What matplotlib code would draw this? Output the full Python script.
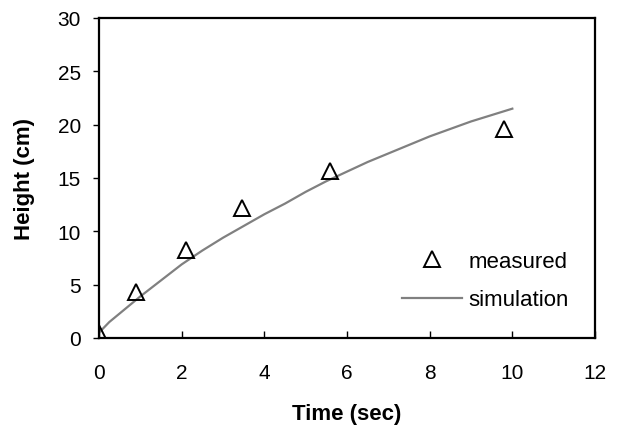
import matplotlib
matplotlib.use("Agg")
import matplotlib.pyplot as plt

plt.rcParams['font.family'] = ['Liberation Sans', 'DejaVu Sans']

meas_t = [0.0, 0.9, 2.1, 3.45, 5.6, 9.8]
meas_h = [0.5, 4.35, 8.25, 12.15, 15.7, 19.55]

sim_t = [0, 0.25, 0.5, 1, 1.5, 2, 2.5, 3, 3.5, 4, 4.5, 5, 5.5, 6, 6.5, 7, 7.5, 8, 8.5, 9, 9.5, 10]
sim_h = [0.5, 1.5, 2.3, 3.9, 5.4, 6.9, 8.2, 9.4, 10.5, 11.6, 12.6, 13.7, 14.7, 15.6, 16.5, 17.3, 18.1, 18.9, 19.6, 20.3, 20.9, 21.5]

fig = plt.figure(figsize=(6.21, 4.27), dpi=100)
W, H = 621, 427
ax = fig.add_axes([99 / W, (H - 339) / H, (595 - 99) / W, (339 - 19) / H])

ax.plot(meas_t, meas_h, linestyle='none', marker='^', markersize=11,
        markerfacecolor='none', markeredgecolor='black', markeredgewidth=1.4,
        label='measured', zorder=3)
ax.plot(sim_t, sim_h, color='#808080', linewidth=1.6, label='simulation')

ax.set_xlim(0, 12)
ax.set_ylim(0, 30)
ax.set_xticks(range(0, 13, 2))
ax.set_yticks(range(0, 31, 5))
ax.tick_params(axis='x', direction='in', length=5, labelsize=15, pad=18, width=1)
ax.tick_params(axis='y', direction='out', length=4, labelsize=15, pad=9, width=1)
for s in ax.spines.values():
    s.set_linewidth(1.6)

ax.set_xlabel('Time (sec)', fontsize=16, fontweight='bold', labelpad=15)
ax.set_ylabel('Height (cm)', fontsize=16, fontweight='bold', labelpad=16)

ax.legend(loc='center left', bbox_to_anchor=((402 - 99) / 496, (339 - 281.5) / 320),
          frameon=False, fontsize=16, handlelength=2.7, handletextpad=0.3,
          labelspacing=0.8, borderpad=0, borderaxespad=0)

fig.savefig('out.png', dpi=100)
